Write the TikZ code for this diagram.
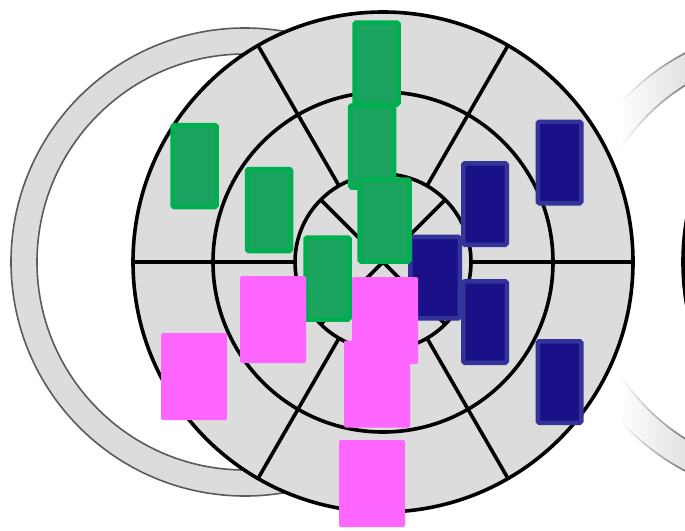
\documentclass[tikz,border=0pt]{standalone}
\usepackage{xcolor}
\usepackage{tikz}
\usetikzlibrary{fadings}
\definecolor{board}{HTML}{DCDCDC}
\definecolor{rim}{HTML}{5A5A5A}
\definecolor{grn}{HTML}{1BA360}
\definecolor{grnedge}{HTML}{00B050}
\definecolor{navy}{HTML}{1A1188}
\definecolor{navyedge}{HTML}{333399}
\definecolor{pnk}{HTML}{FF66FF}

\begin{document}
\begin{tikzpicture}[x=1pt, y=-1pt,
  ring/.style={fill=board, draw=rim, line width=1.6pt, even odd rule},
  wire/.style={draw=black, line width=3.6pt},
  gbox/.style={rectangle, fill=grn, draw=grnedge, line width=4.5pt, rounded corners=1.5pt, minimum width=44pt, minimum height=82pt, inner sep=0pt},
  bbox/.style={rectangle, fill=navy, draw=navyedge, line width=4.5pt, rounded corners=1.5pt, minimum width=43.5pt, minimum height=81.5pt, inner sep=0pt},
  pbox/.style={rectangle, fill=pnk, rounded corners=2pt, minimum width=66pt, minimum height=87pt, inner sep=0pt}]
  \useasboundingbox (0,0) rectangle (685,530);
  \clip (0,0) rectangle (685,530);

  % Kruhy v pozadi
  \coordinate (lc) at (245,262);
  \coordinate (rc) at (795,262);
  \draw[ring] (lc) circle (234pt) (lc) circle (208pt);
  \draw[ring] (rc) circle (236pt) (rc) circle (208pt);
  \fill[white] (540,0) rectangle (621,530);
  \fill[white, path fading=east] (620,0) rectangle (700,530);
  \draw[line width=3.6pt] (933,262) circle (250pt);

  % Terc
  \coordinate (c) at (383,262);
  \fill[board] (c) circle (250pt);
  \draw[wire] (c) circle (250pt) (c) circle (170pt) (c) circle (88pt);
  \begin{scope}[shift={(c)}]
    \foreach \a in {0,60,...,300}
      \draw[wire] (\a:88pt) -- (\a:250pt);
    \foreach \a in {45,135,225,315}
      \draw[wire] (0,0) -- (\a:88pt);
  \end{scope}

  % Modre
  \node[bbox, minimum width=49.5pt] (b1) at (435,277.5) {};
  \node[bbox] (b2) at (485,204) {};
  \node[bbox] (b3) at (559.5,162.5) {};
  \node[bbox] (b4) at (485,322) {};
  \node[bbox] (b5) at (559.5,382) {};

  % Zelene
  \node[gbox] (g2) at (372,146.5) {};
  \node[gbox] (g1) at (376.5,63.5) {};
  \node[gbox, minimum width=50pt] (g3) at (384.5,220.5) {};
  \node[gbox] (g4) at (194.5,166) {};
  \node[gbox] (g5) at (269,210) {};
  \node[gbox] (g6) at (327.5,278.5) {};

  % Ruzove
  \node[pbox] (p1) at (194,376.5) {};
  \node[pbox] (p2) at (273,319.5) {};
  \node[pbox] (p3) at (385,320.5) {};
  \node[pbox] (p4) at (377,384) {};
  \node[pbox] (p5) at (372,483.5) {};
\end{tikzpicture}
\end{document}
